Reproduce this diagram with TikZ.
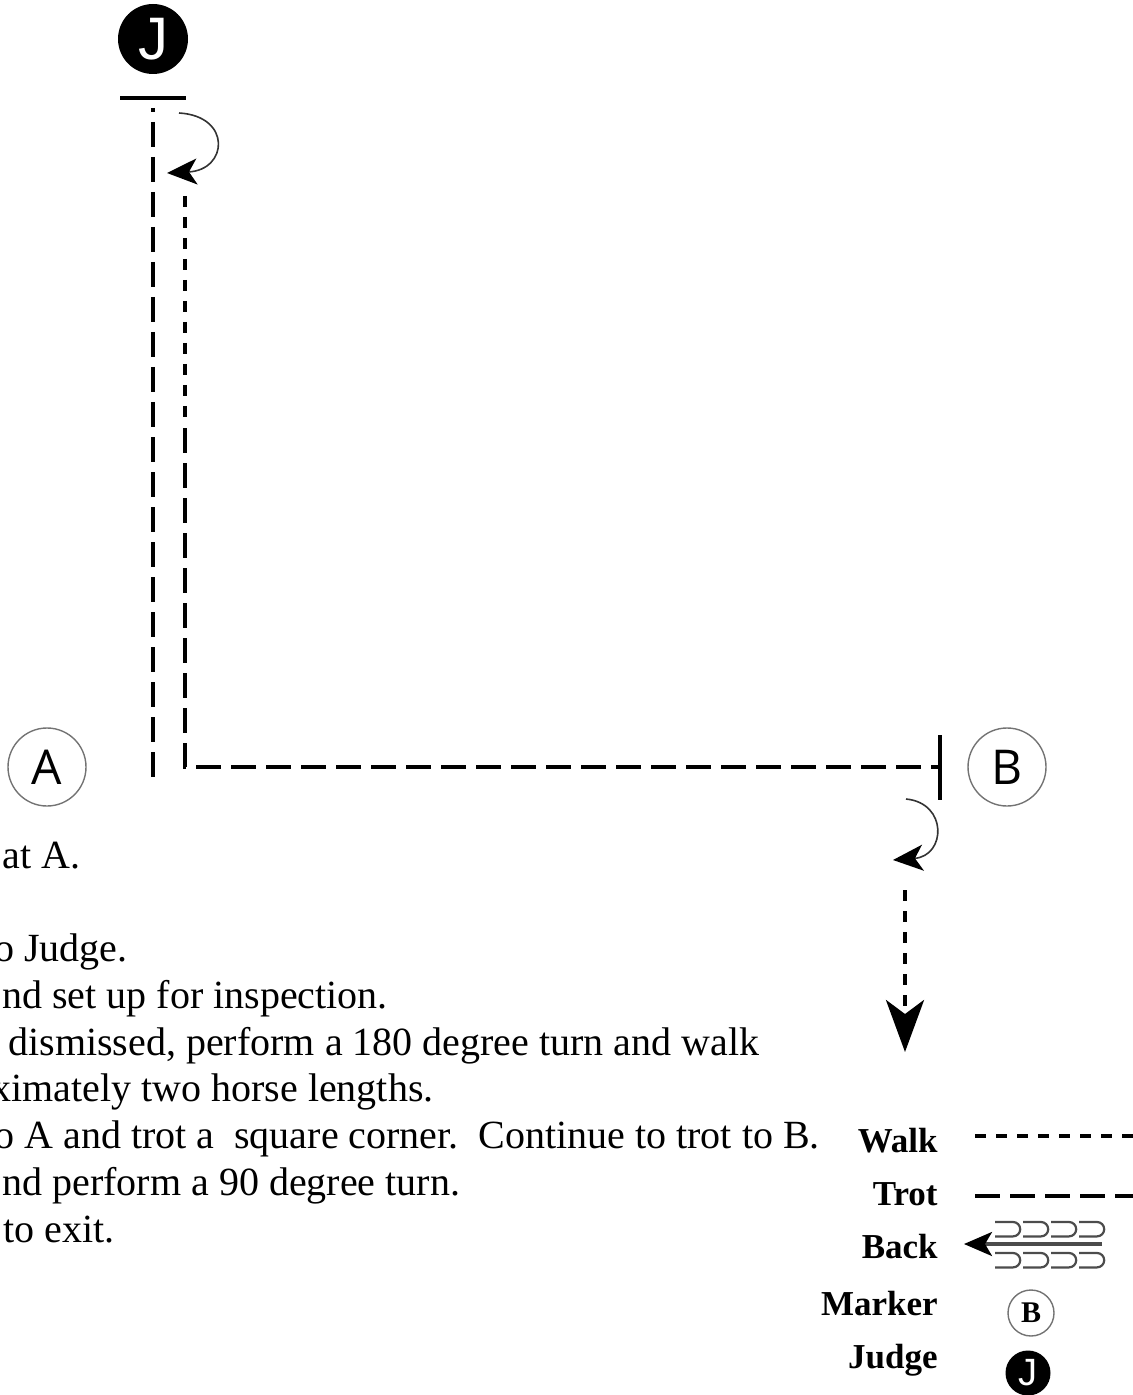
\documentclass[tikz,border=0pt]{standalone}
\usepackage{fontspec}
\setmainfont{Liberation Serif}
\newfontfamily\markfont{Open Sans}
\newfontfamily\judgefont{Liberation Sans}
\usetikzlibrary{arrows.meta, positioning}
\tikzstyle{walk}=[line width=2pt, dash pattern=on 5.5pt off 5pt]
\tikzstyle{trot}=[line width=2pt, dash pattern=on 12.5pt off 5pt]
\tikzstyle{turn}=[draw=black!80, line width=0.8pt, -{Stealth[length=15pt,width=13pt,inset=4pt,black]}]
\tikzstyle{letter}=[circle, draw=black!55, line width=0.7pt, minimum size=39pt, inner sep=0pt, font=\markfont\fontsize{24}{24}\selectfont]
\tikzstyle{judge}=[circle, fill=black, text=white, minimum size=35pt, inner sep=0pt, font=\judgefont\fontsize{30}{30}\selectfont]
\tikzstyle{txt}=[anchor=base west, inner sep=0pt, font=\fontsize{20}{23}\selectfont]
\tikzstyle{key}=[anchor=base east, inner sep=0pt, font=\bfseries\fontsize{17.5}{18}\selectfont]
\tikzstyle{backline}=[draw=black!70, line width=1.1pt]

\begin{document}
\begin{tikzpicture}[x=0.5pt,y=-0.5pt]
  \useasboundingbox (0,0) rectangle (1133,1395);
  % markers and judge
  \node[judge] (J) at (153,39) {J};
  \node[letter] (A) at (47,767) {A};
  \node[letter] (B) at (1007,767) {B};
  \coordinate (barL) at (120,98);
  \coordinate (barR) at (186,98);
  \draw[line width=2pt] (barL) -- (barR);
  % line down from the judge
  \coordinate (p1) at (153,108);
  \coordinate (p2) at (153,783);
  \draw[trot, dash phase=10.5pt] (p1) -- (p2);
  \coordinate (t1) at (179,113);
  \coordinate (t2) at (167,173);
  \draw[turn] (t1) .. controls (232,116) and (228,170) .. (t2);
  % back up the other side, then to B
  \coordinate (r1) at (185,196);
  \coordinate (r2) at (185,420);
  \coordinate (r3) at (185,428);
  \coordinate (bbar) at (938,767);
  \draw[walk] (r1) -- (r2);
  \draw[trot] (r3) |- (bbar);
  \coordinate (bt) at (940,735);
  \coordinate (bb) at (940,800);
  \draw[line width=2pt] (bt) -- (bb);
  \coordinate (u1) at (906,799);
  \coordinate (u2) at (893,860);
  \draw[turn] (u1) .. controls (948,803) and (946,856) .. (u2);
  \coordinate (w1) at (905,890);
  \coordinate (w2) at (905,1052);
  \draw[walk, -{Stealth[length=26pt,width=19pt,inset=7pt]}] (w1) -- (w2);
  % pattern text
  \node[txt] (s1) at (2,868) {at A.};
  \node[txt] (s2) at (-6,961) {o Judge.};
  \node[txt] (s3) at (2,1008) {nd set up for inspection.};
  \node[txt] (s4) at (8,1055) {dismissed, perform a 180 degree turn and walk};
  \node[txt] (s5) at (-9,1101.5) {ximately two horse lengths.};
  \node[txt] (s6) at (-6,1148) {o A and trot a\ \ square corner.\ \ Continue to trot to B.};
  \node[txt] (s7) at (2,1195) {nd perform a 90 degree turn.};
  \node[txt] (s8) at (3,1242) {to exit.};
  % legend
  \node[key] (walklbl) at (938,1152) {Walk};
  \node[key] (trotlbl) at (938,1205) {Trot};
  \node[key] (backlbl) at (938,1258) {Back};
  \node[key] (marklbl) at (938,1315) {Marker};
  \node[key] (judgelbl) at (938,1368) {Judge};
  \coordinate (walkA) at (975,1136);
  \coordinate (walkB) at (1140,1136);
  \draw[walk] (walkA) -- (walkB);
  \coordinate (trotA) at (975,1196);
  \coordinate (trotB) at (1140,1196);
  \draw[trot] (trotA) -- (trotB);
  \coordinate (backA) at (1102,1244);
  \coordinate (backB) at (964,1244);
  \draw[backline, line width=1.6pt, -{Stealth[length=14pt,width=12pt,inset=3.5pt,black]}] (backA) -- (backB);
  \foreach \i in {0,...,3} {
    \draw[backline] (995+28*\i,1222) -- ++(18,0) arc[start angle=90, end angle=-90, radius=3.6pt] -- ++(-18,0);
    \draw[backline] (995+28*\i,1253) -- ++(18,0) arc[start angle=90, end angle=-90, radius=3.6pt] -- ++(-18,0);
  }
  \node[letter, minimum size=23pt, font=\bfseries\fontsize{15}{15}\selectfont] (keyB) at (1031,1313) {B};
  \node[judge, minimum size=22.5pt, font=\judgefont\fontsize{19}{19}\selectfont] (keyJ) at (1028,1373) {J};
\end{tikzpicture}
\end{document}
